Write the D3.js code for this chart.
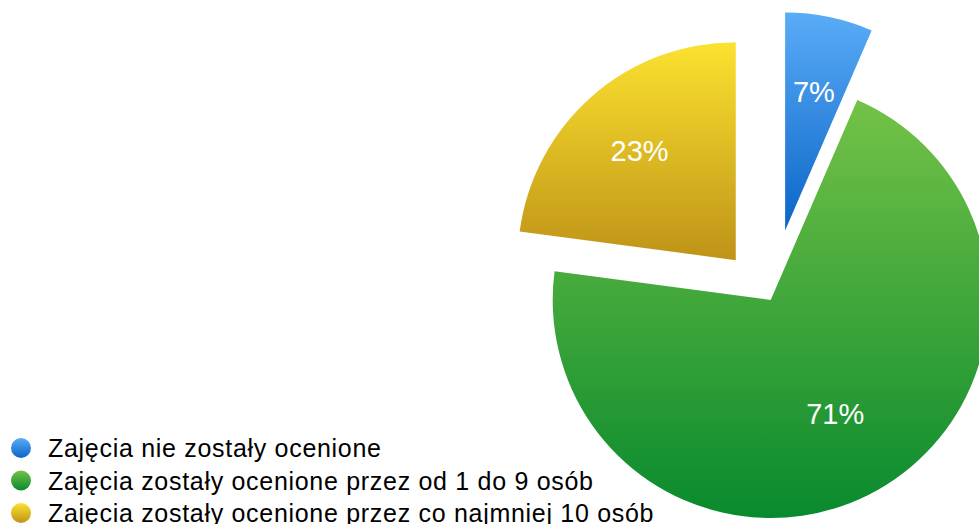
<!DOCTYPE html>
<html>
<head>
<meta charset="utf-8">
<script src="https://cdn.jsdelivr.net/npm/d3@7"></script>
<style>
  html, body { margin: 0; padding: 0; background: #fff; }
  svg { display: block; font-family: "Liberation Sans", Arial, Helvetica, sans-serif; }
</style>
</head>
<body>
<svg id="chart"></svg>
<script>
const categories = [
  'Zajęcia nie zostały ocenione',
  'Zajęcia zostały ocenione przez od 1 do 9 osób',
  'Zajęcia zostały ocenione przez co najmniej 10 osób'
];
const shares = [6.5, 70.6, 22.9];
const labels = ['7%', '71%', '23%'];

const width = 979;
const height = 524;
const radius = 218;
const center = [770.7, 300];
const explode = [71, 0, 53];
const labelRadius = [142, 131, 146];
const gradients = [
  ['#5aacf7', '#0b65c7'],
  ['#74c247', '#098a2e'],
  ['#fbe22f', '#bf9318']
];

const svg = d3.select('#chart').attr('width', width).attr('height', height);

const defs = svg.append('defs');
gradients.forEach((g, i) => {
  const lg = defs.append('linearGradient')
    .attr('id', 'grad' + i)
    .attr('x1', 0).attr('y1', 0).attr('x2', 0).attr('y2', 1);
  lg.append('stop').attr('offset', '0%').attr('stop-color', g[0]);
  lg.append('stop').attr('offset', '100%').attr('stop-color', g[1]);
});

const pie = d3.pie().sort(null).value(d => d);
const arcs = pie(shares);
const arc = d3.arc().innerRadius(0).outerRadius(radius);

function offset(d, r) {
  const a = (d.startAngle + d.endAngle) / 2;
  return [Math.sin(a) * r, -Math.cos(a) * r];
}

const slices = svg.append('g')
  .attr('transform', `translate(${center[0]},${center[1]})`)
  .selectAll('g')
  .data(arcs)
  .join('g')
  .attr('transform', (d, i) => `translate(${offset(d, explode[i])})`);

slices.append('path')
  .attr('d', arc)
  .attr('fill', (d, i) => `url(#grad${i})`);

slices.append('text')
  .attr('transform', (d, i) => `translate(${offset(d, labelRadius[i])})`)
  .attr('text-anchor', 'middle')
  .attr('dy', '0.36em')
  .attr('fill', '#fff')
  .attr('font-size', 29)
  .text((d, i) => labels[i]);

const legend = svg.append('g')
  .selectAll('g')
  .data(categories)
  .join('g')
  .attr('transform', (d, i) => `translate(21,${448 + i * 32.5})`);

legend.append('circle')
  .attr('r', 10)
  .attr('fill', (d, i) => `url(#grad${i})`);

legend.append('text')
  .attr('x', 27)
  .attr('dy', '0.36em')
  .attr('font-size', 25)
  .attr('letter-spacing', 0.7)
  .attr('fill', '#000')
  .text(d => d);
</script>
</body>
</html>
